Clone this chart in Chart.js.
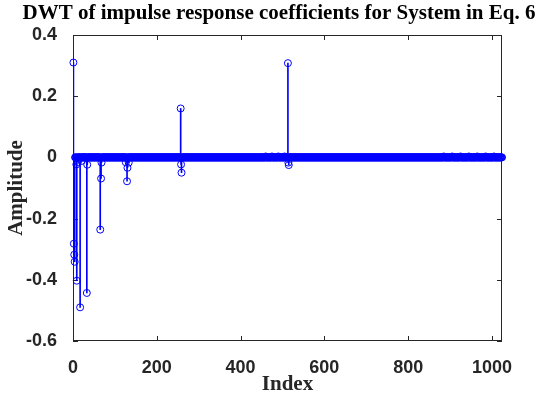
<!DOCTYPE html>
<html>
<head>
<meta charset="utf-8">
<script src="https://cdn.jsdelivr.net/npm/chart.js@4"></script>
<style>
  html, body { margin: 0; padding: 0; background: #fff; }
  #wrap { width: 538px; height: 399px; }
</style>
</head>
<body>
<div id="wrap"><canvas id="dwt" width="538" height="399"></canvas></div>
<script>
// number of DWT coefficients; everything not listed below sits on zero
const numCoeffs = 1024;
// coefficients that stand out from the zero band (index, amplitude)
const spikeIndex = [1, 2, 3, 4, 8, 9, 12, 17, 20, 33, 34, 65, 67, 68, 126, 129, 130, 133,
  257, 258, 259, 460, 475, 490, 505, 513, 514, 515, 885, 905, 925, 945, 965, 985, 1005];
const spikeValue = [0.31, -0.282, -0.318, -0.341, -0.023, -0.403, -0.015, -0.49, -0.012, -0.443, -0.024,
  -0.236, -0.069, -0.017, -0.016, -0.078, -0.034, -0.017,
  0.16, -0.023, -0.05, 0.003, 0.003, 0.003, 0.003, 0.308, -0.017, -0.025,
  0.003, 0.003, 0.003, 0.003, 0.003, 0.003, 0.003];
const xTicks = [0, 200, 400, 600, 800, 1000];
const yTicks = [-0.6, -0.4, -0.2, 0, 0.2, 0.4];

const coeffs = [];
for (let i = 1; i <= numCoeffs; i++) {
  const k = spikeIndex.indexOf(i);
  coeffs.push({ x: i, y: k >= 0 ? spikeValue[k] : 0 });
}

const axisColor = '#262626';
const stemBlue = '#0000ff';

// MATLAB style box with inward tick marks
const axisBox = {
  id: 'axisBox',
  beforeDatasetsDraw(chart) {
    const { ctx, chartArea: a, scales: { x, y } } = chart;
    ctx.save();
    ctx.strokeStyle = axisColor;
    ctx.lineWidth = 1;
    ctx.strokeRect(a.left + 0.5, a.top + 0.5, a.right - a.left - 1, a.bottom - a.top - 1);
    ctx.beginPath();
    x.ticks.forEach(t => {
      const px = Math.round(x.getPixelForValue(t.value)) + 0.5;
      ctx.moveTo(px, a.bottom); ctx.lineTo(px, a.bottom - 5);
      ctx.moveTo(px, a.top); ctx.lineTo(px, a.top + 5);
    });
    y.ticks.forEach(t => {
      const py = Math.round(y.getPixelForValue(t.value)) + 0.5;
      ctx.moveTo(a.left, py); ctx.lineTo(a.left + 5, py);
      ctx.moveTo(a.right, py); ctx.lineTo(a.right - 5, py);
    });
    ctx.stroke();
    ctx.restore();
  }
};

new Chart(document.getElementById('dwt'), {
  type: 'scatter',
  data: {
    datasets: [
      {
        type: 'scatter',
        data: coeffs,
        order: 0,
        clip: false,
        pointStyle: 'circle',
        pointRadius: 3.5,
        pointBorderWidth: 1,
        pointBorderColor: stemBlue,
        pointBackgroundColor: 'rgba(0,0,0,0)'
      },
      {
        type: 'bar',
        data: coeffs,
        order: 1,
        barThickness: 1,
        backgroundColor: stemBlue,
        borderWidth: 0
      }
    ]
  },
  plugins: [axisBox],
  options: {
    responsive: false,
    animation: false,
    layout: { padding: { left: 20, right: 0, top: 0, bottom: 0 } },
    plugins: {
      legend: { display: false },
      tooltip: { enabled: false },
      title: {
        display: true,
        text: 'DWT of impulse response coefficients for System in Eq. 6',
        color: '#000',
        font: { family: 'Liberation Serif', size: 21, weight: 'bold' },
        padding: { top: 1, bottom: 8.8 }
      }
    },
    scales: {
      x: {
        type: 'linear',
        min: 0,
        max: 1024,
        offset: false,
        grid: { display: false, offset: false },
        border: { display: false },
        afterBuildTicks: s => { s.ticks = xTicks.map(v => ({ value: v })); },
        afterFit: s => { s.height = 58; },
        ticks: {
          padding: 8,
          color: axisColor,
          font: { family: 'Liberation Sans', size: 18, weight: 'bold' },
          maxRotation: 0,
          callback: v => String(v)
        },
        title: {
          display: true,
          text: 'Index',
          color: axisColor,
          font: { family: 'Liberation Serif', size: 21, weight: 'bold' },
          padding: { top: 0, bottom: 2 }
        }
      },
      y: {
        min: -0.6,
        max: 0.4,
        grid: { display: false },
        border: { display: false },
        afterBuildTicks: s => { s.ticks = yTicks.map(v => ({ value: v })); },
        afterFit: s => { s.width = 53; },
        ticks: {
          padding: 8,
          color: axisColor,
          font: { family: 'Liberation Sans', size: 18, weight: 'bold' },
          callback: v => String(Number(v.toFixed(1)))
        },
        title: {
          display: true,
          text: 'Amplitude',
          color: axisColor,
          font: { family: 'Liberation Serif', size: 21, weight: 'bold' },
          padding: { top: -15.6, bottom: 0 }
        }
      },
      yRight: {
        position: 'right',
        display: true,
        grid: { display: false },
        border: { display: false },
        ticks: { display: false },
        afterFit: s => { s.width = 36; }
      }
    }
  }
});
</script>
</body>
</html>
